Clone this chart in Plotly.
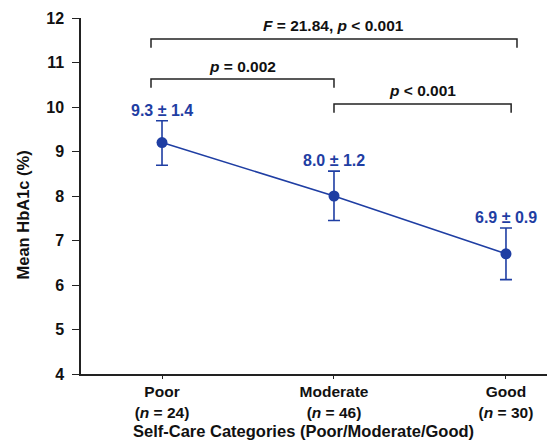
import plotly.graph_objects as go

categories = ["Poor", "Moderate", "Good"]
n_values = [24, 46, 30]
means = [9.2, 8.0, 6.7]
err_plus = [0.49, 0.56, 0.58]
err_minus = [0.51, 0.55, 0.58]
value_labels = ["9.3 ± 1.4", "8.0 ± 1.2", "6.9 ± 0.9"]

# brackets: x start, x end, y level, label, label y
bracket_x0 = [-0.064, -0.064, 1.0]
bracket_x1 = [2.064, 1.0, 2.03]
bracket_y = [11.53, 10.63, 10.07]
bracket_labels = ["<i>F</i> = 21.84, <i>p</i> < 0.001", "<i>p</i> = 0.002", "<i>p</i> < 0.001"]
label_y = [11.84, 10.92, 10.38]
leg = 0.2

BLUE = "#1f3ea3"
FONT = "Liberation Sans, Arial, sans-serif"

xs = list(range(len(categories)))
ticktext = [f"<b>{c}<br>(<i>n</i> = {n})</b>" for c, n in zip(categories, n_values)]

fig = go.Figure()
fig.add_trace(go.Scatter(
    x=xs, y=means, mode="lines+markers",
    line=dict(color=BLUE, width=1.6),
    marker=dict(color=BLUE, size=11),
    error_y=dict(type="data", symmetric=False, array=err_plus, arrayminus=err_minus,
                 color=BLUE, thickness=1.6, width=6),
    showlegend=False, hoverinfo="skip",
))

for x, m, ep, lab in zip(xs, means, err_plus, value_labels):
    fig.add_annotation(x=x, y=m + ep, text=f"<b>{lab}</b>", showarrow=False,
                       yanchor="bottom", yshift=0,
                       font=dict(family=FONT, size=16, color=BLUE))

for x0, x1, y, lab, ly in zip(bracket_x0, bracket_x1, bracket_y, bracket_labels, label_y):
    fig.add_shape(type="path",
                  path=f"M {x0},{y - leg} L {x0},{y} L {x1},{y} L {x1},{y - leg}",
                  xref="x", yref="y", line=dict(color="#222222", width=1.5))
    fig.add_annotation(x=(x0 + x1) / 2, y=ly, text=f"<b>{lab}</b>", showarrow=False,
                       font=dict(family=FONT, size=15.5, color="#111111"))

# axis titles
fig.add_annotation(xref="paper", yref="paper", x=0.470, y=-0.161,
                   text="<b>Self-Care Categories (Poor/Moderate/Good)</b>",
                   showarrow=False, xanchor="center", yanchor="middle",
                   font=dict(family=FONT, size=16.5, color="#111111"))
fig.add_annotation(xref="paper", yref="paper", x=-0.1224, y=0.448,
                   text="<b>Mean HbA1c (%)</b>", textangle=-90,
                   showarrow=False, xanchor="center", yanchor="middle",
                   font=dict(family=FONT, size=16.5, color="#111111"))

fig.update_xaxes(
    range=[-0.471, 2.285], tickvals=xs, ticktext=ticktext,
    showline=True, linecolor="#222222", linewidth=1.5,
    ticks="outside", ticklen=3, tickcolor="#222222",
    showgrid=False, zeroline=False,
    tickfont=dict(family=FONT, size=15.5, color="#111111"),
)
fig.update_yaxes(
    range=[4, 12], tickvals=list(range(4, 13)),
    ticktext=[f"<b>{v}</b>" for v in range(4, 13)],
    showline=True, linecolor="#222222", linewidth=1.5,
    ticks="outside", ticklen=7, tickcolor="#222222",
    ticklabelstandoff=5,
    showgrid=False, zeroline=False,
    tickfont=dict(family=FONT, size=16, color="#111111"),
)
fig.update_layout(
    width=547, height=433,
    margin=dict(l=73, r=0, t=10, b=67),
    plot_bgcolor="white", paper_bgcolor="white",
)
fig.write_html("out.html")
